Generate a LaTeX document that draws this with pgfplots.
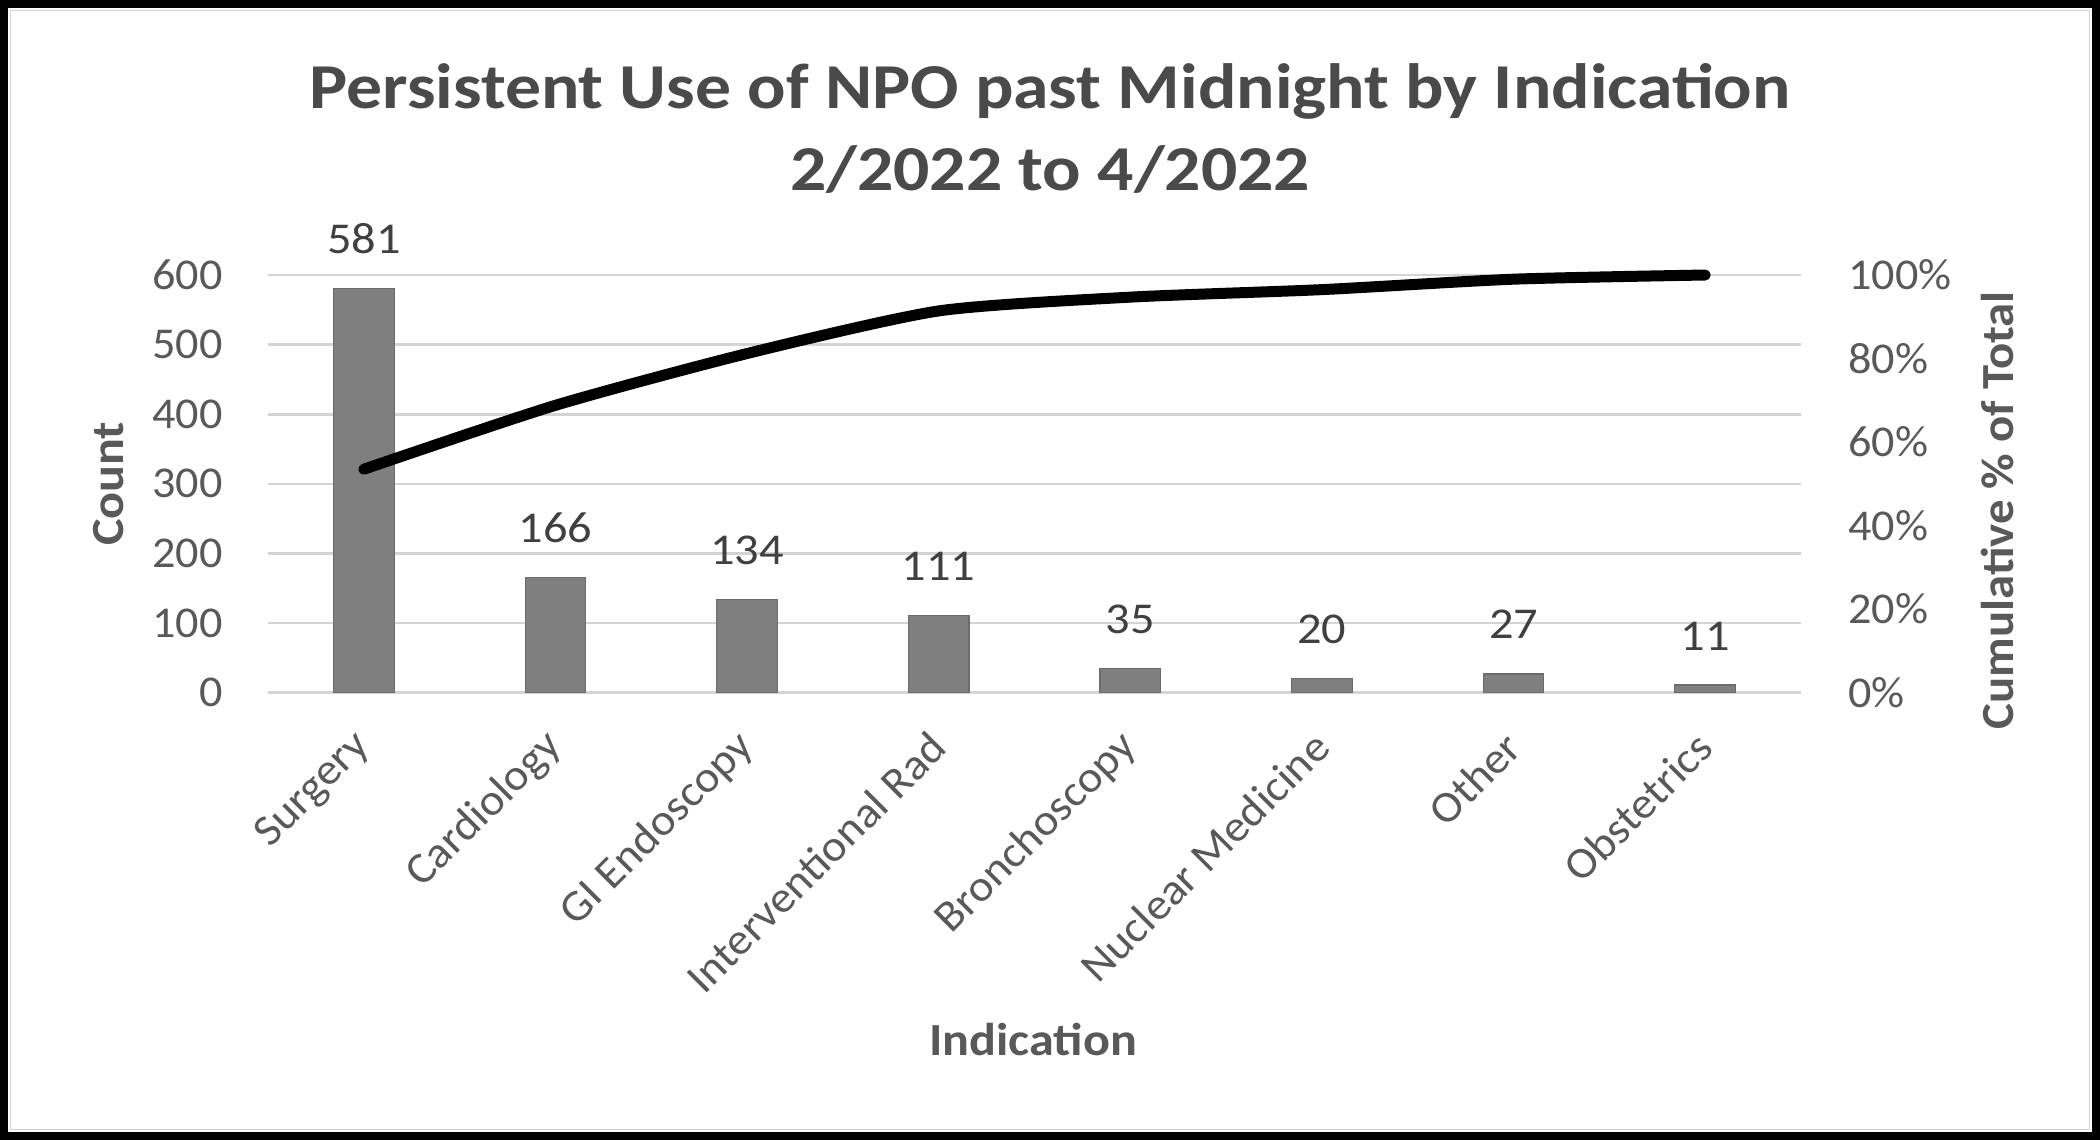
\documentclass[border=0pt]{standalone}
\usepackage{pgfplots}
\pgfplotsset{compat=1.18}
\usepackage{fontspec}
\setmainfont{Carlito}[FakeStretch=1.05]
\newfontfamily\titlefont{Carlito}[FakeStretch=1.12]
\newfontfamily\labfont{Carlito}[FakeStretch=1.09]
\newfontfamily\rlabfont{Carlito}[FakeStretch=1.06]
\newfontfamily\datafont{Carlito}[FakeStretch=1.10]
\definecolor{txt}{HTML}{595959}
\definecolor{ttl}{HTML}{4A4A4A}
\definecolor{dlab}{HTML}{404040}
\definecolor{gridc}{HTML}{D4D4D4}
\definecolor{barc}{HTML}{7F7F7F}
\begin{document}
\begin{tikzpicture}
\useasboundingbox (0,0) rectangle (1050pt,-570pt);
\fill[white] (0,0) rectangle (1050pt,-570pt);
\draw[black, line width=4pt] (2pt,-2pt) rectangle (1048pt,-568pt);
\draw[gray!35, line width=0.8pt] (5.2pt,-5.2pt) rectangle (1044.8pt,-564.8pt);
\node[font=\titlefont\fontsize{32}{38}\selectfont\bfseries, text=ttl, anchor=base, inner sep=0pt] at (525pt,-54pt) {Persistent Use of NPO past Midnight by Indication};
\node[font=\titlefont\fontsize{32}{38}\selectfont\bfseries, text=ttl, anchor=base, inner sep=0pt] at (525pt,-95.3pt) {2/2022 to 4/2022};
\node[font=\labfont\fontsize{23}{28}\selectfont\bfseries, text=txt, anchor=base, inner sep=0pt] at (516.5pt,-527.5pt) {Indication};
\begin{axis}[
  at={(134pt,-346.35pt)}, anchor=south west,
  scale only axis, width=766.5pt, height=208.85pt,
  xmin=-0.5, xmax=7.5, ymin=0, ymax=600,
  ytick={0,100,...,600},
  xtick={0,...,7},
  xticklabels={Surgery,Cardiology,GI Endoscopy,Interventional Rad,Bronchoscopy,Nuclear Medicine,Other,Obstetrics},
  axis line style={draw=none},
  major tick length=0pt,
  ymajorgrids, grid style={gridc, line width=1.35pt},
  /pgf/number format/assume math mode=true,
  ticklabel style={font=\fontsize{22}{26}\selectfont, text=txt},
  yticklabel style={inner sep=0pt, anchor=east, xshift=-22.5pt},
  xticklabel style={yshift=-23.5pt, rotate=45, anchor=east, inner sep=0pt},
  ylabel={Count},
  ylabel style={font=\labfont\fontsize{23}{28}\selectfont\bfseries, text=txt, at={(rel axis cs:-0.1037,0.5)}, anchor=center, rotate=0},
  nodes near coords,
  every node near coord/.append style={font=\datafont\fontsize{22}{26}\selectfont, text=dlab, anchor=center, yshift=24.6pt, inner sep=0pt},
]
\addplot[ybar, bar width=30.3pt, fill=barc, draw=barc!85!black, line width=0.6pt] coordinates {
(0,581) (1,166) (2,134) (3,111) (4,35) (5,20) (6,27) (7,11)};
\end{axis}
\begin{axis}[
  at={(134pt,-346.35pt)}, anchor=south west,
  scale only axis, width=766.5pt, height=208.85pt,
  xmin=-0.5, xmax=7.5, ymin=0, ymax=1,
  axis x line=none, axis y line*=right,
  axis line style={draw=none},
  major tick length=0pt,
  ytick={0,0.2,0.4,0.6,0.8,1},
  yticklabels={0\%,20\%,40\%,60\%,80\%,100\%},
  ticklabel style={font=\fontsize{22}{26}\selectfont, text=txt},
  yticklabel style={inner sep=0pt, anchor=west, xshift=23.5pt},
  ylabel={Cumulative \% of Total},
  ylabel style={font=\rlabfont\fontsize{23}{28}\selectfont\bfseries, text=txt, at={(rel axis cs:1.1285,0.437)}, anchor=center, rotate=0},
  clip=false,
]
\addplot[black, line width=5.5pt, line cap=round, line join=round, smooth, tension=0.4] coordinates {
(0,0.535) (1,0.688) (2,0.812) (3,0.914) (4,0.947) (5,0.965) (6,0.990) (7,1.000)};
\end{axis}
\end{tikzpicture}
\end{document}
